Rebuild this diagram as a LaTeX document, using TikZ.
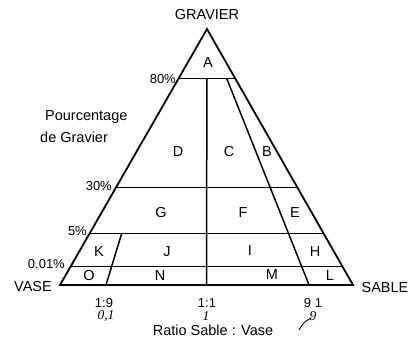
\documentclass[tikz,border=0pt]{standalone}
\usepackage{fontspec}
\setmainfont{Liberation Sans}
\newfontfamily\handfont{Liberation Serif}
\usetikzlibrary{calc}
\begin{document}
\begin{tikzpicture}[x=1pt,y=-1pt,
  lbl/.style={font=\fontsize{14.5}{16}\selectfont, inner sep=0pt},
  pct/.style={font=\fontsize{13}{15}\selectfont, inner sep=0pt},
  hw/.style={font=\handfont\itshape\fontsize{13.5}{15}\selectfont, inner sep=0pt},
  edge/.style={line width=1.8pt, line join=miter},
  divline/.style={line width=1.5pt},
  hline/.style={line width=1pt}]
\useasboundingbox (0,0) rectangle (411,339);
\coordinate (T) at (207,29);
\coordinate (BL) at (60,285);
\coordinate (BR) at (353,285);
% horizontal level lines
\coordinate (L80) at ($(T)!0.195!(BL)$);
\coordinate (R80) at ($(T)!0.195!(BR)$);
\coordinate (L30) at ($(T)!0.621!(BL)$);
\coordinate (R30) at ($(T)!0.621!(BR)$);
\coordinate (L5) at ($(T)!0.797!(BL)$);
\coordinate (R5) at ($(T)!0.797!(BR)$);
\coordinate (L001) at ($(T)!0.926!(BL)$);
\coordinate (R001) at ($(T)!0.926!(BR)$);
\draw[hline] (L80) -- (R80);
\draw[hline] (L30) -- (R30);
\draw[hline] (L5) -- (R5);
\draw[hline] (L001) -- (R001);
% ratio lines
\coordinate (M80) at ($(L80)!0.5!(R80)$);
\coordinate (MB) at ($(BL)!0.5!(BR)$);
\draw[divline] (M80) -- (MB);
\coordinate (N80) at ($(L80)!0.85!(R80)$);
\coordinate (NB) at ($(BL)!0.85!(BR)$);
\draw[divline] (N80) -- (NB);
\coordinate (K5) at ($(L5)!0.137!(R5)$);
\coordinate (KB) at ($(BL)!0.157!(BR)$);
\draw[divline] (K5) -- (KB);
% outline
\draw[edge] (T) -- (BL) -- (BR) -- cycle;
% field labels
\node[lbl] (A) at (208,63) {A};
\node[lbl] (D) at (178,152) {D};
\node[lbl] (C) at (229,152) {C};
\node[lbl] (B) at (267,152) {B};
\node[lbl] (G) at (161,213) {G};
\node[lbl] (F) at (243,213) {F};
\node[lbl] (E) at (295,213) {E};
\node[lbl] (K) at (99,252) {K};
\node[lbl] (J) at (167,252) {J};
\node[lbl] (I) at (250,251) {I};
\node[lbl] (H) at (315,252) {H};
\node[lbl] (O) at (89,276) {O};
\node[lbl] (N) at (160,276) {N};
\node[lbl] (M) at (272,275) {M};
\node[lbl] (L) at (330,276) {L};
% axis texts
\node[lbl] (grav) at (207,15) {GRAVIER};
\node[pct, anchor=east] (p80) at (176,79) {80\%};
\node[lbl, anchor=west] (pc1) at (45,117) {Pourcentage};
\node[lbl, anchor=west] (pc2) at (40,137) {de Gravier};
\node[pct, anchor=east] (p30) at (112,186) {30\%};
\node[pct, anchor=east] (p5) at (87,231) {5\%};
\node[pct, anchor=east] (p001) at (65,264) {0.01\%};
\node[lbl] (vase) at (33,287) {VASE};
\node[lbl] (sable) at (385,288) {SABLE};
\node[pct] (r19) at (104,303) {1:9};
\node[pct] (r11) at (207,303) {1:1};
\node[pct] (r91) at (313,303) {9 1};
\node[hw] (h01) at (106,316) {0,1};
\node[hw] (h1) at (206,316) {1};
\node[hw] (h9) at (313,316) {9};
\coordinate (h9tail) at (299,330);
\draw[line width=0.9pt] (h9.south west) ++(2,-3) .. controls (304,322) .. (h9tail);
\node[lbl] (ratio) at (213,330) {Ratio Sable : Vase};
\end{tikzpicture}
\end{document}
